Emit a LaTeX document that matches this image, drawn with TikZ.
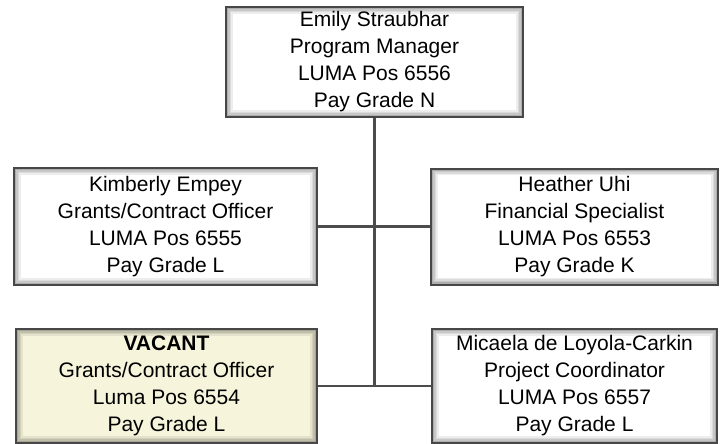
\documentclass[tikz,border=0pt]{standalone}
\usepackage{fontspec}
\setmainfont{Liberation Sans}
\begin{document}
\begin{tikzpicture}[x=1pt,y=-1pt,
  boxline/.style={draw=black!72,line width=2pt},
  posbox/.style={boxline,fill=white,rectangle,align=center,inner sep=0pt,
    font=\fontsize{21}{27}\selectfont,text=black,
    path picture={
      \foreach \d/\o in {1.5/0.32,3/0.22,4.5/0.14,6/0.07}{
        \draw[black,opacity=\o,line width=1.6pt]
          ([shift={(\d pt,-\d pt)}]path picture bounding box.north west) rectangle
          ([shift={(-\d pt,\d pt)}]path picture bounding box.south east);
      }
    }},
  vacant/.style={posbox,fill=vacantfill},
  link/.style={draw=black!70,line width=2.2pt}
]
\definecolor{vacantfill}{HTML}{F6F4DA}
\useasboundingbox (0,0) rectangle (720,444);

% positions
\node[posbox,minimum width=297pt,minimum height=110pt] (mgr) at (374.5,62)
  {Emily Straubhar\\Program Manager\\LUMA Pos 6556\\Pay Grade N};
\node[posbox,minimum width=303pt,minimum height=117pt] (grants) at (165.5,226.5)
  {Kimberly Empey\\Grants/Contract Officer\\LUMA Pos 6555\\Pay Grade L};
\node[posbox,minimum width=287pt,minimum height=116pt] (fin) at (574.5,226.5)
  {Heather Uhi\\Financial Specialist\\LUMA Pos 6553\\Pay Grade K};
\node[vacant,minimum width=301pt,minimum height=114pt] (vac) at (166.5,386)
  {\textbf{VACANT}\\Grants/Contract Officer\\Luma Pos 6554\\Pay Grade L};
\node[posbox,minimum width=285pt,minimum height=114pt] (coord) at (574.5,386)
  {Micaela de Loyola-Carkin\\Project Coordinator\\LUMA Pos 6557\\Pay Grade L};

% reporting lines
\coordinate (trunk) at (mgr.south |- vac.east);
\draw[link] (mgr.south) -- (trunk);
\draw[link] (grants.east) -- (fin.west);
\draw[link] (vac.east) -- (coord.west);
\end{tikzpicture}
\end{document}
